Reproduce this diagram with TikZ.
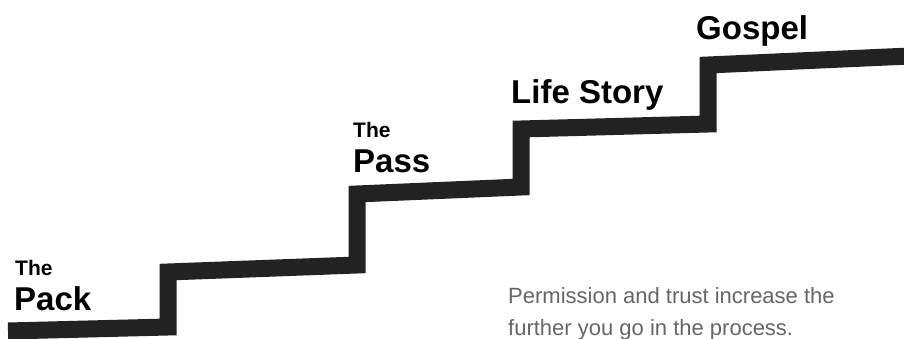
\documentclass[tikz,border=0pt]{standalone}
\usepackage{fontspec}
\setmainfont{Liberation Sans}
\usepackage{xcolor}
\usepackage{tikz}
\usetikzlibrary{positioning}
\definecolor{encre}{HTML}{222222}
\definecolor{grislegende}{HTML}{666666}
\tikzset{
  escalier/.style={line width=17pt, color=encre, line join=miter, line cap=butt},
  titre/.style={font=\fontsize{33}{36}\selectfont\bfseries, text=black,
    anchor=base west, inner sep=0pt},
  article/.style={font=\fontsize{21}{24}\selectfont\bfseries, text=black,
    anchor=base west, inner sep=0pt},
  legende/.style={font=\fontsize{22}{32}\selectfont, text=grislegende,
    anchor=base west, inner sep=0pt}
}

\begin{document}
\begin{tikzpicture}[x=1pt, y=-1pt]
    \useasboundingbox (0,0) rectangle (904,339);

    % les marches
    \draw[escalier] (8,331) -- (168,327) -- (168,272) -- (357,265) -- (357,194)
      -- (521,187) -- (521,129) -- (708,124) -- (708,65) -- (910,56);

    \node[article] (thepack) at (15,275) {The};
    \node[titre] (pack) at (14,310) {Pack};
    \node[article] (thepass) at (353,138) {The};
    \node[titre] (pass) at (353,173) {Pass};
    \node[titre] (lifestory) at (511,104) {Life Story};
    \node[titre] (gospel) at (696,40) {Gospel};

    \node[legende] (ligne1) at (508,303) {Permission and trust increase the};
    \node[legende] (ligne2) at ([yshift=-32pt]ligne1.base west) {further you go in the process.};
  \end{tikzpicture}
\end{document}
